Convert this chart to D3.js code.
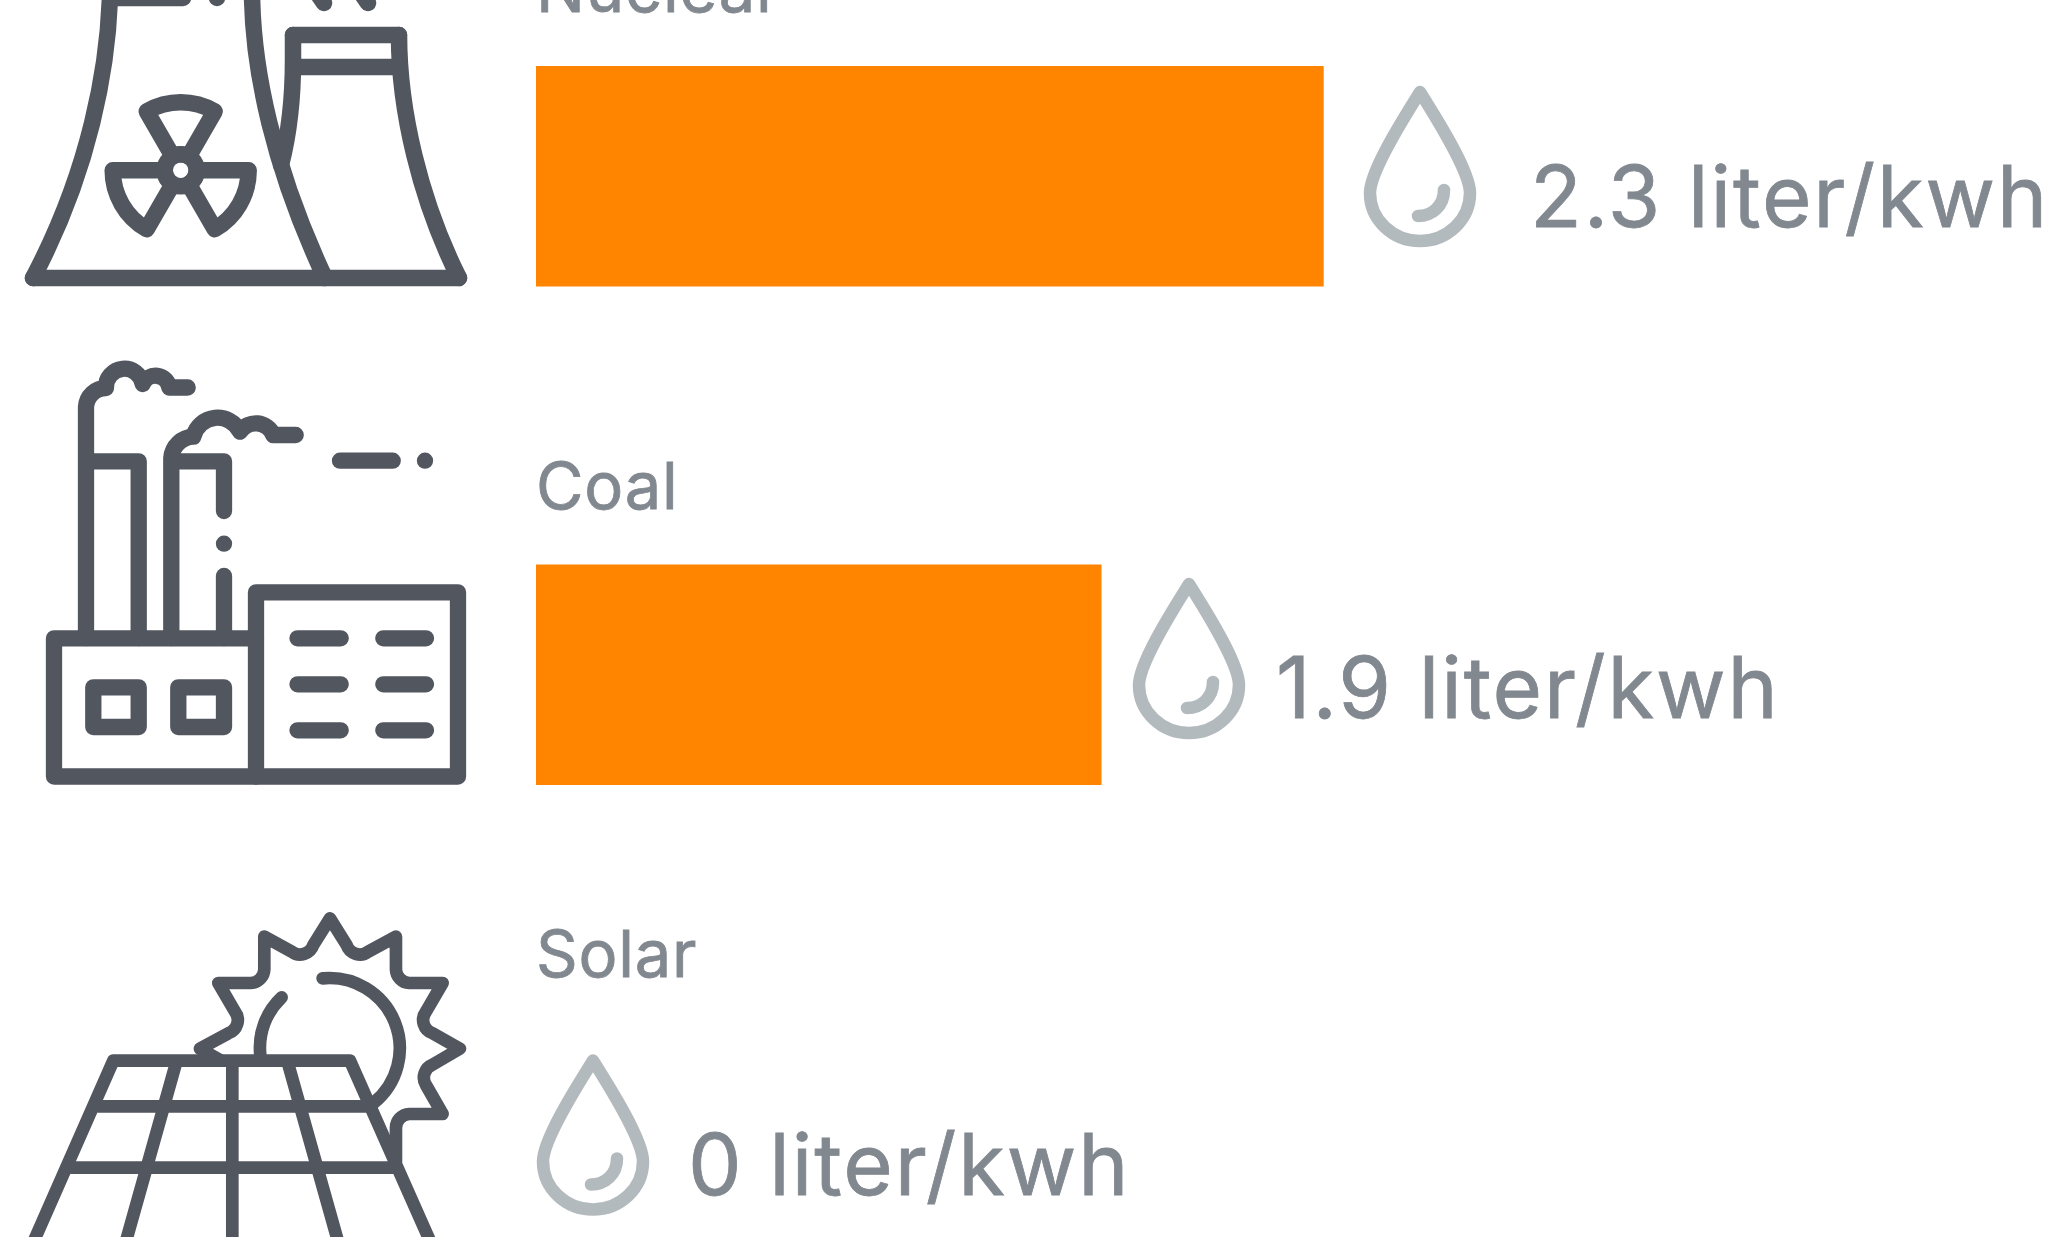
<!DOCTYPE html>
<html>
<head>
<meta charset="utf-8">
<title>Water use per kWh</title>
<script src="https://cdn.jsdelivr.net/npm/d3@7"></script>
<style>
  html, body { margin: 0; padding: 0; background: #fff; overflow: hidden; }
  svg { display: block; }
  text { font-family: Inter, "Noto Sans", sans-serif; font-weight: 400; fill: #82888f; stroke: #82888f; stroke-width: 0.8px; }
</style>
</head>
<body>
<div id="chart"></div>
<script>
// Values
const categories = ["Nuclear", "Coal", "Solar"];
const litersPerKwh = [2.3, 1.9, 0];
const unitLabel = "liter/kwh";

const width = 2049;
const height = 1237;

const orange = "#ff8400";
const iconColor = "#51565f";
const dropColor = "#b3babd";

// The rows are not evenly spaced in the original, so each one gets its own slot
const labelY = d3.scaleOrdinal().domain(categories).range([12, 509, 977]);
const barY = d3.scaleOrdinal().domain(categories).range([66, 564.5, 1063]);
const dropX = d3.scaleOrdinal().domain(categories).range([1420, 1189, 593]);
const dropY = d3.scaleOrdinal().domain(categories).range([86, 578, 1054.5]);
const valueX = d3.scaleOrdinal().domain(categories).range([1530, 1276, 688]);
const valueY = d3.scaleOrdinal().domain(categories).range([226.5, 718, 1195]);
const barHeight = 220.5;

// The drawn bars are not proportional to their printed values (coal is short),
// so the scale goes through both measured bar ends
const x = d3.scaleLinear().domain([0, 1.9, 2.3]).range([536, 1101.5, 1323.7]);

const rows = categories.map((name, i) => ({ name, value: litersPerKwh[i] }));

const svg = d3.select("#chart")
  .append("svg")
  .attr("width", width)
  .attr("height", height)
  .attr("viewBox", `0 0 ${width} ${height}`);

// Bars
svg.selectAll(".bar")
  .data(rows)
  .enter()
  .append("rect")
  .attr("class", "bar")
  .attr("x", x(0))
  .attr("y", d => barY(d.name))
  .attr("width", d => x(d.value) - x(0))
  .attr("height", barHeight)
  .attr("fill", orange);

// Category labels
svg.selectAll(".category")
  .data(rows)
  .enter()
  .append("text")
  .attr("class", "category")
  .attr("x", x(0))
  .attr("y", d => labelY(d.name))
  .style("font-size", "65px")
  .style("letter-spacing", "0.8px")
  .text(d => d.name);

// Value labels
svg.selectAll(".value")
  .data(rows)
  .enter()
  .append("text")
  .attr("class", "value")
  .attr("x", d => valueX(d.name))
  .attr("y", d => valueY(d.name))
  .style("font-size", "85px")
  .style("letter-spacing", "1.9px")
  .text(d => `${d.value} ${unitLabel}`);

// Water drops
const drops = svg.selectAll(".drop")
  .data(rows)
  .enter()
  .append("g")
  .attr("class", "drop")
  .attr("transform", d => `translate(${dropX(d.name)},${dropY(d.name)})`)
  .attr("fill", "none")
  .attr("stroke", dropColor)
  .attr("stroke-width", 12.5)
  .attr("stroke-linecap", "round")
  .attr("stroke-linejoin", "round");

drops.append("path")
  .attr("d", "M0,6 C-13,27 -50,84 -50,107 C-50,134 -27,155 0,155 C27,155 50,134 50,107 C50,84 13,27 0,6 Z");
drops.append("path")
  .attr("d", "M24,104 C24,120 12,130 -2,130");

// Icons, traced by hand
function addIcon(transform, strokeWidth, paths) {
  const g = svg.append("g")
    .attr("transform", transform)
    .attr("fill", "none")
    .attr("stroke", iconColor)
    .attr("stroke-width", strokeWidth)
    .attr("stroke-linecap", "round")
    .attr("stroke-linejoin", "round");
  paths.forEach(p => g.append("path").attr("d", p));
  return g;
}

// Nuclear plant
const nuclear = addIcon(null, 16.5, [
  "M33,278 H459",
  "M33,278 C90,170 108,67 110,-5",
  "M110,-2 H183",
  "M217,-2 L217,-2",
  "M252,-5 C253,70 273,167 325,278",
  "M315,-10 L324,3",
  "M359,-10 L368,3",
  "M293,35 H399 M299,67 H393",
  "M293,35 V60 C293,90 290,130 281,165",
  "M399,35 C399,110 420,200 459,278"
]);

const trefoil = d3.arc().innerRadius(16).outerRadius(68);
const blade = Math.PI / 6;
[0, Math.PI * 2 / 3, Math.PI * 4 / 3].forEach(a => {
  nuclear.append("path")
    .attr("transform", "translate(180.7,170.3)")
    .attr("d", trefoil({ startAngle: a - blade, endAngle: a + blade }));
});
nuclear.append("circle")
  .attr("cx", 180.7)
  .attr("cy", 170.3)
  .attr("r", 16);

// Coal plant
addIcon(null, 16.3, [
  "M54,638.3 H256 V776.5 H54 Z",
  "M256,776.5 H458 V592.3 H256 V638.3",
  "M93.3,687.3 H138.7 V727 H93.3 Z",
  "M178.3,687.3 H224 V727 H178.3 Z",
  "M297.5,638.3 H340.7 M383.3,638.3 H426",
  "M297.5,684.3 H340.7 M383.3,684.3 H426",
  "M297.5,730.3 H340.7 M383.3,730.3 H426",
  "M94,461.3 H138.7 V638",
  "M86,638 V407 A20,20 0 0 1 106,388 A18.5,18.5 0 0 1 142.7,384 A14,14 0 0 1 169.3,387.5 H187.7",
  "M179,461.3 H224 V511",
  "M224,543.7 L224,543.7",
  "M224,576 V638",
  "M171.3,638 V458 A23,23 0 0 1 193.3,436.7 A25,25 0 0 1 240,431.7 A19,19 0 0 1 273.3,435 H295.7",
  "M340,460.7 H392.7",
  "M425,460.7 L425,460.7"
]);

// Solar panel, traced in 3x crop units
addIcon("translate(0,890) scale(0.3333)", 38, [
  "M81,1100 L340,512 H1050 L1311,1100",
  "M295,649 H1096",
  "M214,833 H1178",
  "M697,520 V1100",
  "M528,520 L365,1100",
  "M864,520 L1027,1100",
  "M1188,815 V715 A42,42 0 0 1 1228,672 H1328 L1278,585 A42,42 0 0 1 1298,524 L1380,476 L1298,430 A42,42 0 0 1 1278,365 L1328,279 H1228 A42,42 0 0 1 1188,238 V140 L1105,185 A42,42 0 0 1 1040,165 L990,85 L940,165 A42,42 0 0 1 875,185 L793,140 V238 A42,42 0 0 1 752,279 H655 L705,365 A42,42 0 0 1 685,430 L600,476 L660,510",
  "M968,265 A211,211 0 0 1 1120,640",
  "M845,322 A208,208 0 0 0 781,495"
]);
</script>
</body>
</html>
